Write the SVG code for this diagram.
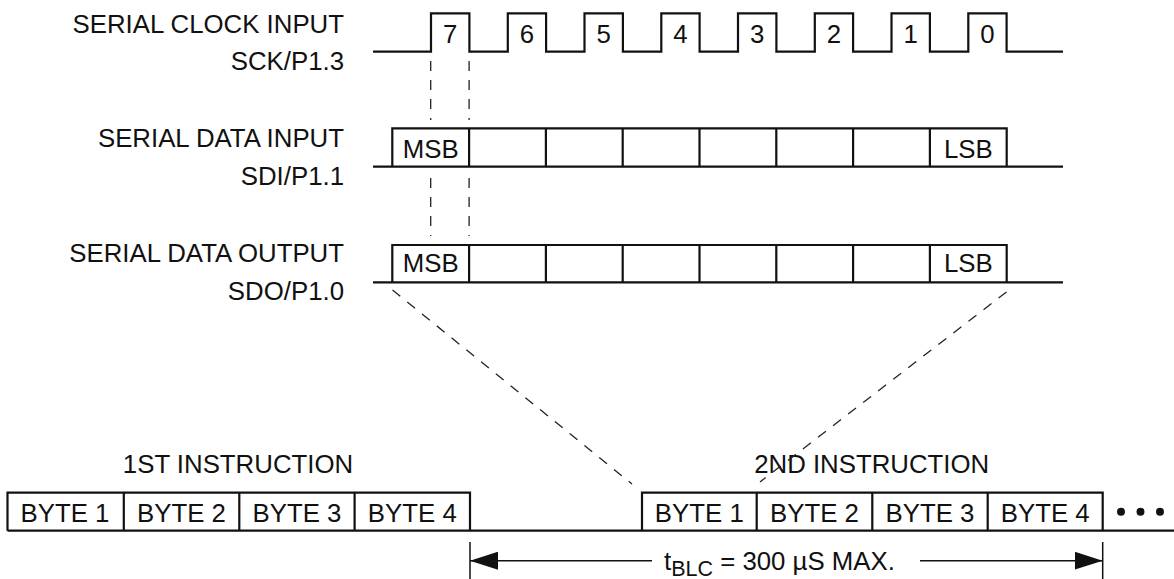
<svg xmlns="http://www.w3.org/2000/svg" width="1174" height="579" viewBox="0 0 1174 579">
<style>
text{font-family:"Liberation Sans",Arial,sans-serif;font-size:25.8px;fill:#111}
.r{text-anchor:end}
.m{text-anchor:middle}
.w{fill:none;stroke:#111;stroke-width:2.2;stroke-linejoin:miter}
.d{fill:none;stroke:#222;stroke-width:1.3;stroke-dasharray:10 9}
.a{fill:none;stroke:#111;stroke-width:1.5}
</style>
<defs>
<marker id="ah" viewBox="0 0 28 18" refX="28" refY="9" markerWidth="28" markerHeight="18" markerUnits="userSpaceOnUse" orient="auto-start-reverse">
<path d="M0,0 L28,9 L0,18 Z" fill="#111"/>
</marker>
</defs>
<rect width="1174" height="579" fill="#fff"/>
<g id="labels">
<text class="r" x="344" y="33">SERIAL CLOCK INPUT</text>
<text class="r" x="344" y="70">SCK/P1.3</text>
<text class="r" x="344" y="147">SERIAL DATA INPUT</text>
<text class="r" x="344" y="185">SDI/P1.1</text>
<text class="r" x="344" y="262">SERIAL DATA OUTPUT</text>
<text class="r" x="344" y="300">SDO/P1.0</text>
</g>
<g id="clock">
<path class="w" d="M373,51.7 H431 V13.3 H469.4 V51.7 H507.8 V13.3 H546.1 V51.7 H584.5 V13.3 H622.9 V51.7 H661.3 V13.3 H699.6 V51.7 H738 V13.3 H776.4 V51.7 H814.8 V13.3 H853.1 V51.7 H891.5 V13.3 H929.9 V51.7 H968.3 V13.3 H1006.6 V51.7 H1063"/>
<text class="m" x="450.2" y="42.7">7</text>
<text class="m" x="527" y="42.7">6</text>
<text class="m" x="603.7" y="42.7">5</text>
<text class="m" x="680.5" y="42.7">4</text>
<text class="m" x="757.2" y="42.7">3</text>
<text class="m" x="834" y="42.7">2</text>
<text class="m" x="910.7" y="42.7">1</text>
<text class="m" x="987.5" y="42.7">0</text>
</g>
<g id="sdi">
<path class="w" d="M373,166.7 H1063 M392.3,166.7 V128.3 H1006.7 V166.7 M469.1,128.3 V166.7 M545.9,128.3 V166.7 M622.7,128.3 V166.7 M699.5,128.3 V166.7 M776.3,128.3 V166.7 M853.1,128.3 V166.7 M929.9,128.3 V166.7"/>
<text class="m" x="430.7" y="157.7">MSB</text>
<text class="m" x="968.3" y="157.7">LSB</text>
</g>
<g id="sdo">
<path class="w" d="M373,282.3 H1063 M392.3,282.3 V245 H1006.7 V282.3 M469.1,245 V282.3 M545.9,245 V282.3 M622.7,245 V282.3 M699.5,245 V282.3 M776.3,245 V282.3 M853.1,245 V282.3 M929.9,245 V282.3"/>
<text class="m" x="430.7" y="272.3">MSB</text>
<text class="m" x="968.3" y="272.3">LSB</text>
</g>
<g id="instr1">
<text class="m" x="238" y="473">1ST INSTRUCTION</text>
<path class="w" d="M7.5,530.7 H1174 M7.5,530.7 V492.7 H470 V530.7 M123.8,492.7 V530.7 M239.3,492.7 V530.7 M354.6,492.7 V530.7"/>
<text class="m" x="65" y="521.7">BYTE 1</text>
<text class="m" x="181.5" y="521.7">BYTE 2</text>
<text class="m" x="297" y="521.7">BYTE 3</text>
<text class="m" x="412.3" y="521.7">BYTE 4</text>
</g>
<g id="instr2">
<text class="m" x="871.7" y="473">2ND INSTRUCTION</text>
<path class="w" d="M642,530.7 V492.7 H1102.7 V530.7 M756.7,492.7 V530.7 M872.3,492.7 V530.7 M987.7,492.7 V530.7"/>
<text class="m" x="699.3" y="521.7">BYTE 1</text>
<text class="m" x="814.5" y="521.7">BYTE 2</text>
<text class="m" x="930" y="521.7">BYTE 3</text>
<text class="m" x="1045.2" y="521.7">BYTE 4</text>
<circle cx="1121" cy="511.7" r="4" fill="#111"/>
<circle cx="1140.5" cy="511.7" r="4" fill="#111"/>
<circle cx="1160" cy="511.7" r="4" fill="#111"/>
</g>
<g id="connectors">
<path class="d" d="M430.7,61 V120 M469.1,61 V120 M430.7,178 V236 M469.1,178 V236"/>
<path class="d" d="M392.5,290 L632,484"/>
<path class="d" d="M1006.5,292 L760,482"/>
<path class="a" d="M470,542 V579 M1102.7,542 V579"/>
<path class="a" d="M652,560.7 H470" marker-end="url(#ah)"/>
<path class="a" d="M920,560.7 H1102.7" marker-end="url(#ah)"/>
<text x="664" y="570">t<tspan font-size="21.5" dy="6">BLC</tspan><tspan dy="-6"> = 300 µS MAX.</tspan></text>
</g>
</svg>
